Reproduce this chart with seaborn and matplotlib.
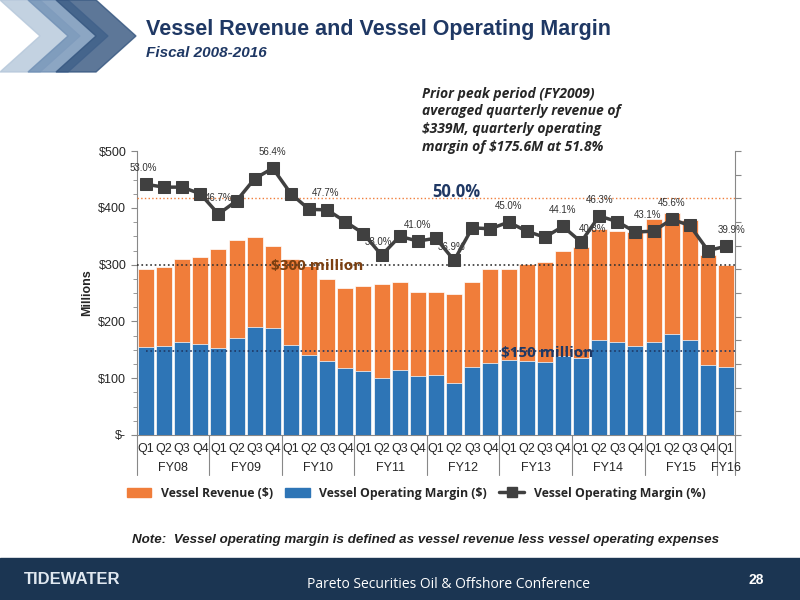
import numpy as np
import pandas as pd
import matplotlib
matplotlib.use("Agg")
import matplotlib.pyplot as plt
import matplotlib.patches as mpatches
from matplotlib.lines import Line2D
import seaborn as sns

# quarterly data FY08 Q1 .. FY16 Q1
quarters = ["Q1", "Q2", "Q3", "Q4"] * 8 + ["Q1"]
years = ["FY08", "FY09", "FY10", "FY11", "FY12", "FY13", "FY14", "FY15", "FY16"]
revenue = [292, 296, 310, 313, 328, 344, 348, 333, 310, 298, 275, 259, 262, 266, 269, 252,
           252, 248, 270, 292, 293, 302, 304, 324, 331, 363, 360, 358, 381, 391, 378, 317, 299]
op_margin = [155, 156, 164, 160, 153, 171, 190, 188, 159, 141, 131, 118, 112, 101, 114, 104,
             105, 92, 119, 127, 132, 130, 128, 140, 135, 168, 164, 156, 164, 178, 167, 124, 119]
margin_pct = [53.0, 52.4, 52.4, 51.0, 46.7, 49.5, 54.2, 56.4, 51.0, 47.7, 47.6, 45.1, 42.6, 38.0, 42.0, 41.0,
              41.6, 36.9, 43.8, 43.6, 45.0, 43.1, 41.8, 44.1, 40.8, 46.3, 45.1, 42.9, 43.1, 45.6, 44.3, 39.0, 39.9]
labelled = {0: (-2, 8), 4: (0, 8), 7: (0, 8), 9: (12, 8), 13: (-2, 6), 15: (0, 8), 17: (-2, 6),
            20: (0, 8), 23: (0, 8), 24: (8, 6), 25: (0, 8), 28: (-4, 8), 29: (0, 8), 32: (4, 8)}

df = pd.DataFrame({"idx": range(len(revenue)), "rev": revenue, "om": op_margin, "pct": margin_pct})

sns.set_style("white")
plt.rcParams["font.family"] = ["Liberation Sans", "DejaVu Sans"]
orange = "#F07D3A"
blue = "#2E75B6"
navy = "#1F3864"

fig = plt.figure(figsize=(8, 6), dpi=100)

# header chevrons
for i, c in enumerate(["#B5C7DA", "#7090B5", "#34557F"]):
    x0 = i * 0.035
    fig.patches.append(mpatches.Polygon([[x0, 1.0], [x0 + 0.05, 1.0], [x0 + 0.1, 0.94],
                                         [x0 + 0.05, 0.88], [x0, 0.88], [x0 + 0.05, 0.94]],
                                        closed=True, transform=fig.transFigure, color=c, alpha=0.8, zorder=0))
fig.text(0.182, 0.942, "Vessel Revenue and Vessel Operating Margin", fontsize=15.5, fontweight="bold", color=navy)
fig.text(0.182, 0.905, "Fiscal 2008-2016", fontsize=11, fontweight="bold", style="italic", color=navy)
fig.text(0.527, 0.748, "Prior peak period (FY2009)\naveraged quarterly revenue of\n$339M, quarterly operating\nmargin of $175.6M at 51.8%",
         fontsize=10, fontweight="bold", style="italic", linespacing=1.35, family=["Open Sans", "DejaVu Sans"])

ax = fig.add_axes([0.171, 0.275, 0.748, 0.473])
sns.barplot(data=df, x="idx", y="rev", color=orange, width=0.88, edgecolor="white", linewidth=0.5,
            saturation=1, ax=ax, zorder=2)
sns.barplot(data=df, x="idx", y="om", color=blue, width=0.88, edgecolor="white", linewidth=0.5,
            saturation=1, ax=ax, zorder=3)
ax.set_ylim(0, 500)
ax.set_xlim(-0.5, len(revenue) - 0.5)
ax.set_yticks(range(0, 501, 100))
ax.set_yticklabels(["$-"] + [f"${v}" for v in range(100, 501, 100)], fontsize=9)
ax.set_yticks(range(0, 501, 25), minor=True)
ax.tick_params(axis="y", which="both", direction="out", left=True, length=4, color="#888888")
ax.tick_params(axis="y", which="minor", length=3)
ax.set_ylabel("Millions", fontsize=9, fontweight="bold")
ax.set_xticks(range(len(quarters)))
ax.set_xticklabels(quarters, fontsize=9)
ax.tick_params(axis="x", length=0, pad=6)
ax.set_xlabel("")
for s in ["top", "right"]:
    ax.spines[s].set_visible(False)
for s in ["left", "bottom"]:
    ax.spines[s].set_color("#888888")

ax.axhline(300, color="#333333", linestyle=":", linewidth=1.2, zorder=4)
ax.plot([0.0, len(revenue) - 0.5], [148, 148], color=navy, linestyle=":", linewidth=1.2, zorder=4)
ax.text(6.9, 290, "$300 million", fontsize=11, fontweight="bold", color="#7B3F10", zorder=5,
        family=["Open Sans", "DejaVu Sans"])
ax.text(19.6, 137, "$150 million", fontsize=11, fontweight="bold", color=navy, zorder=5,
        family=["Open Sans", "DejaVu Sans"])

# year group labels and separators
for k in range(len(years)):
    start = k * 4
    end = min(start + 4, len(quarters))
    ax.text((start + end - 1) / 2, -0.095, years[k], transform=ax.get_xaxis_transform(),
            ha="center", va="top", fontsize=9)
for b in list(range(0, len(quarters), 4)) + [len(quarters)]:
    ax.plot([b - 0.5, b - 0.5], [0, -0.14], transform=ax.get_xaxis_transform(), color="#888888",
            linewidth=0.8, clip_on=False)

ax2 = ax.twinx()
ax2.set_position(ax.get_position())
sns.lineplot(data=df, x="idx", y="pct", color="#404040", linewidth=2.5, marker="s", markersize=8,
             markeredgecolor="#404040", ax=ax2, zorder=6)
ax2.set_ylim(0, 60)
ax2.set_yticks(range(0, 61, 5))
ax2.set_yticklabels([])
ax2.set_ylabel("")
ax2.tick_params(axis="y", direction="out", right=True, length=4, color="#888888")
for s in ["top", "left", "bottom"]:
    ax2.spines[s].set_visible(False)
ax2.spines["right"].set_color("#888888")
ax2.axhline(50, color=orange, linestyle=":", linewidth=1.0, zorder=1)
ax2.text(15.8, 50.3, "50.0%", fontsize=12, fontweight="bold", color=navy, family=["Open Sans", "DejaVu Sans"])
for i, (dx, dy) in labelled.items():
    ax2.annotate(f"{margin_pct[i]:.1f}%", (i, margin_pct[i]), xytext=(dx, dy), textcoords="offset points",
                 ha="center", va="bottom", fontsize=7, color="#333333")

handles = [mpatches.Patch(color=orange, label="Vessel Revenue ($)"),
           mpatches.Patch(color=blue, label="Vessel Operating Margin ($)"),
           Line2D([0], [0], color="#404040", linewidth=2.5, marker="s", markersize=7,
                  label="Vessel Operating Margin (%)")]
fig.legend(handles=handles, loc="center", bbox_to_anchor=(0.52, 0.178), ncol=3, frameon=False,
           prop={"size": 8.8, "weight": "bold", "family": ["Open Sans", "DejaVu Sans"]}, handlelength=2.0,
           columnspacing=1.0)

fig.text(0.165, 0.095, "Note:  Vessel operating margin is defined as vessel revenue less vessel operating expenses",
         fontsize=9.6, fontweight="bold", style="italic", color="#222222")

# footer band
fig.patches.append(mpatches.Rectangle((0, 0), 1, 0.07, transform=fig.transFigure, color="#1B3552", zorder=0))
fig.text(0.03, 0.035, "TIDEWATER", fontsize=12, fontweight="bold", color="#E0E8F0", va="center")
fig.text(0.56, 0.025, "Pareto Securities Oil & Offshore Conference", fontsize=10, color="white", ha="center",
         va="center", family=["Open Sans", "DejaVu Sans"])
fig.text(0.955, 0.033, "28", fontsize=10, fontweight="bold", color="white", ha="right", va="center")

fig.savefig("out.png", dpi=100)
